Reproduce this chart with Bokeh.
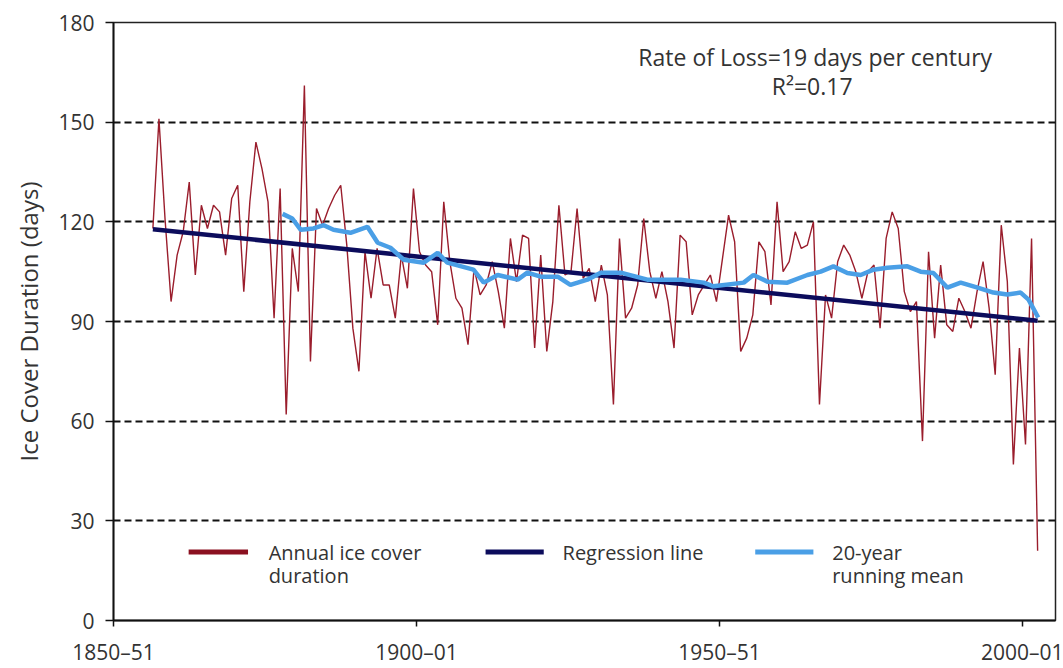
from bokeh.plotting import figure
from bokeh.models import Range1d, FixedTicker, Label, BoxAnnotation
from bokeh.embed import file_html
from bokeh.resources import INLINE

# ---------------- data ----------------
first_winter = 1855  # 1855-56
ice_days = [
    118, 151, 121, 96, 110, 117, 132, 104, 125, 118,   # 1855-1864
    125, 123, 110, 127, 131, 99, 126, 144, 136, 126,   # 1865-1874
    91, 130, 62, 112, 99, 161, 78, 124, 119, 124,      # 1875-1884
    128, 131, 113, 88, 75, 111, 97, 112, 101, 101,     # 1885-1894
    91, 110, 100, 130, 111, 107, 105, 89, 126, 108,    # 1895-1904
    97, 94, 83, 106, 98, 101, 108, 99, 88, 115,        # 1905-1914
    102, 116, 115, 82, 110, 81, 96, 125, 104, 105,     # 1915-1924
    124, 103, 106, 96, 107, 98, 65, 115, 91, 94,       # 1925-1934
    101, 121, 105, 97, 105, 96, 82, 116, 114, 92,      # 1935-1944
    98, 101, 104, 96, 109, 122, 114, 81, 85, 92,       # 1945-1954
    114, 111, 95, 126, 105, 108, 117, 112, 113, 120,   # 1955-1964
    65, 98, 91, 108, 113, 110, 105, 97, 105, 107,      # 1965-1974
    88, 115, 123, 118, 99, 93, 96, 54, 111, 85,        # 1975-1984
    107, 89, 87, 97, 93, 88, 99, 108, 94, 74,          # 1985-1994
    119, 102, 47, 82, 53, 115, 21,                     # 1995-2001
]
winters = list(range(first_winter, first_winter + len(ice_days)))

# 20-year running mean (winter, days)
rm_winter = [1876.4, 1878.0, 1879.4, 1881.5, 1883.2, 1884.8, 1887.6, 1890.4,
             1892.1, 1894.2, 1896.4, 1899.7, 1902.0, 1903.6, 1907.9, 1909.6,
             1911.9, 1915.2, 1916.8, 1919.0, 1921.8, 1923.9, 1926.7, 1928.9,
             1932.2, 1936.6, 1942.1, 1945.9, 1947.5, 1952.5, 1954.1, 1956.4,
             1959.7, 1963.0, 1965.2, 1967.3, 1969.6, 1971.8, 1973.9, 1976.2,
             1979.5, 1981.7, 1983.8, 1986.1, 1988.3, 1991.1, 1993.7, 1996.0,
             1998.2, 1999.5, 2001.1]
rm_days = [122.4, 121.0, 117.6, 118.0, 119.0, 117.6, 116.7, 118.5,
           113.7, 112.2, 108.6, 107.7, 110.7, 107.7, 105.6, 101.7,
           104.0, 102.6, 104.7, 103.5, 103.5, 101.0, 102.6, 104.7,
           104.7, 102.6, 102.6, 101.7, 100.6, 101.7, 104.0, 102.0,
           101.7, 104.0, 105.0, 106.6, 104.6, 104.0, 105.6, 106.2,
           106.6, 105.0, 104.6, 100.2, 101.7, 100.2, 98.7, 98.1,
           98.7, 96.6, 91.2]

# regression line end values
reg_winter = [winters[0], winters[-1]]
reg_days = [117.8, 90.2]

x_ticks = [1850, 1900, 1950, 2000]
x_tick_labels = ["1850\u201351", "1900\u201301", "1950\u201351", "2000\u201301"]
y_ticks = [0, 30, 60, 90, 120, 150, 180]

annotation_1 = "Rate of Loss=19 days per century"
annotation_2 = "R\u00b2=0.17"

# ---------------- style ----------------
FONT = "Open Sans"
TXT = "#333333"
RED = "#9a1d2c"
NAVY = "#0c0c5c"
BLUE = "#4a9fe6"
SHIFT = 1.5  # a winter is drawn at its start year + this offset

xs = [w + SHIFT for w in winters]
rm_x = [w + SHIFT for w in rm_winter]
reg_x = [w + SHIFT for w in reg_winter]

p = figure(width=1063, height=668, output_backend="svg", toolbar_location=None,
           x_range=Range1d(1850, 2005.45), y_range=Range1d(0, 180),
           min_border_left=113, min_border_right=8, min_border_top=22,
           min_border_bottom=46)
p.background_fill_color = "white"
p.border_fill_color = "white"
p.outline_line_color = "#222222"
p.outline_line_width = 1.5

# axes
p.xaxis.ticker = FixedTicker(ticks=x_ticks)
p.xaxis.major_label_overrides = dict(zip(x_ticks, x_tick_labels))
p.yaxis.ticker = FixedTicker(ticks=y_ticks)
for ax in (p.xaxis[0], p.yaxis[0]):
    ax.minor_tick_line_color = None
    ax.major_tick_in = 0
    ax.axis_line_color = "#111111"
    ax.axis_line_width = 1.8
    ax.major_tick_line_color = "#111111"
    ax.major_tick_line_width = 1.5
    ax.major_label_text_font = FONT
    ax.major_label_text_font_size = "21px"
    ax.major_label_text_color = TXT
p.xaxis.major_tick_out = 6
p.xaxis.major_label_standoff = 11
p.yaxis.major_tick_out = 8
p.yaxis.major_label_standoff = 11
p.yaxis.axis_label = "Ice Cover Duration (days)"
p.yaxis.axis_label_text_font = FONT
p.yaxis.axis_label_text_font_size = "24px"
p.yaxis.axis_label_text_font_style = "normal"
p.yaxis.axis_label_text_color = TXT
p.yaxis.axis_label_standoff = 10

# grid
p.xgrid.visible = False
p.ygrid.ticker = FixedTicker(ticks=[30, 60, 90, 120, 150])
p.ygrid.grid_line_color = "#111111"
p.ygrid.grid_line_dash = "7 4"
p.ygrid.grid_line_width = 1.8

# series
p.line(xs, ice_days, line_color=RED, line_width=1.4)
p.line(reg_x, reg_days, line_color=NAVY, line_width=4.5)
p.line(rm_x, rm_days, line_color=BLUE, line_width=4.5)

# annotation text
p.add_layout(Label(x=1965.8, y=169.6, text=annotation_1, text_align="center",
                   text_baseline="middle", text_font=FONT, text_font_size="23px",
                   text_color=TXT))
p.add_layout(Label(x=1965.3, y=160.8, text=annotation_2, text_align="center",
                   text_baseline="middle", text_font=FONT, text_font_size="23px",
                   text_color=TXT))

# legend (drawn manually)
legend_items = [
    (1862.4, 1872.2, "#8b1020", ["Annual ice cover", "duration"], 1875.6),
    (1911.4, 1921.0, NAVY, ["Regression line"], 1924.1),
    (1955.9, 1965.5, BLUE, ["20-year", "running mean"], 1968.6),
]
for left, right, col, lines, tx in legend_items:
    p.add_layout(BoxAnnotation(left=left, right=right, bottom=19.9, top=21.4,
                               fill_color=col, fill_alpha=1.0, line_alpha=0))
    for i, t in enumerate(lines):
        p.add_layout(Label(x=tx, y=20.4 - i * 7.0, text=t, text_align="left",
                           text_baseline="middle", text_font=FONT,
                           text_font_size="20px", text_color=TXT))

open("out.html", "w").write(file_html(p, INLINE))
